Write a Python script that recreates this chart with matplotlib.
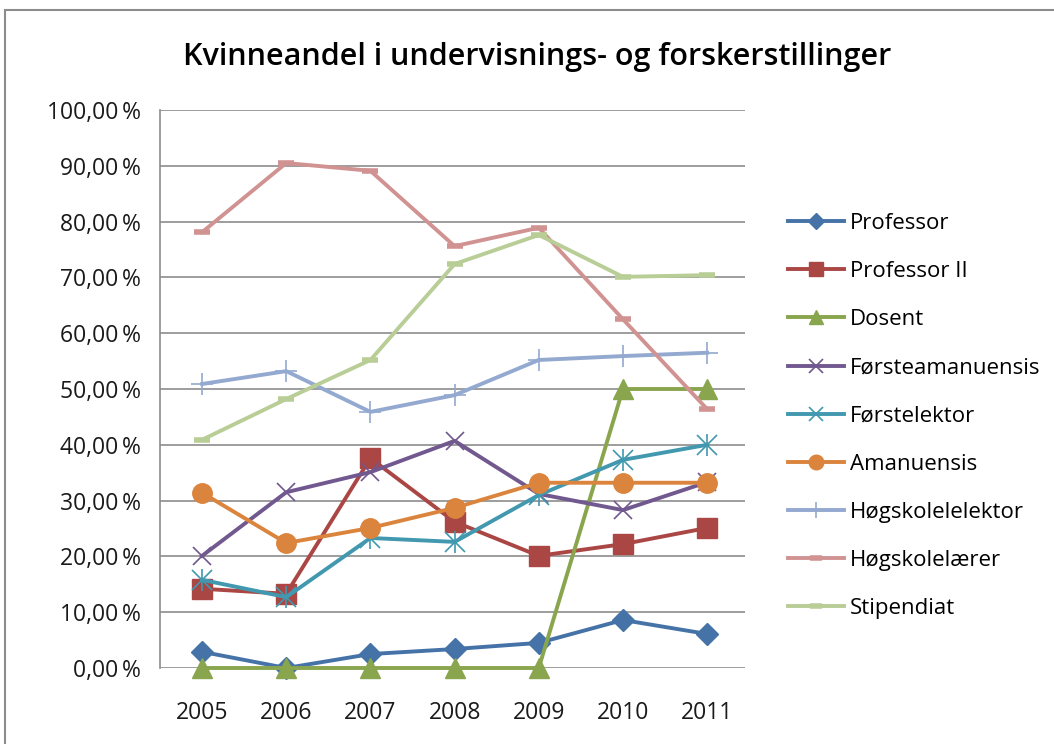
import matplotlib
matplotlib.use("Agg")
import matplotlib.pyplot as plt
from matplotlib.patches import Rectangle
from matplotlib.ticker import FuncFormatter

plt.rcParams['font.family'] = ['Open Sans', 'DejaVu Sans']

# -----------------------------
# Data (share of women, %)
# -----------------------------
years = [2005, 2006, 2007, 2008, 2009, 2010, 2011]

professor = [2.9, 0.0, 2.5, 3.4, 4.5, 8.6, 6.1]
professor_ii = [14.2, 13.3, 37.6, 26.2, 20.1, 22.2, 25.1]
dosent = [0.0, 0.0, 0.0, 0.0, 0.0, 50.0, 50.0]
forsteamanuensis = [20.1, 31.5, 35.1, 40.7, 31.2, 28.3, 33.3]
forstelektor = [15.8, 12.7, 23.3, 22.6, 31.0, 37.3, 40.0]
amanuensis = [31.4, 22.4, 25.1, 28.7, 33.2, 33.2, 33.2]
hogskolelektor = [50.9, 53.2, 45.9, 48.9, 55.2, 55.9, 56.5]
hogskolelaerer = [78.1, 90.5, 89.1, 75.6, 78.9, 62.5, 46.4]
stipendiat = [40.9, 48.2, 55.2, 72.4, 77.6, 70.1, 70.4]

series_names = ["Professor", "Professor II", "Dosent", "Førsteamanuensis",
                "Førstelektor", "Amanuensis", "Høgskolelelektor",
                "Høgskolelærer", "Stipendiat"]
series_values = [professor, professor_ii, dosent, forsteamanuensis,
                 forstelektor, amanuensis, hogskolelektor, hogskolelaerer,
                 stipendiat]

# -----------------------------
# Styles
# -----------------------------
colors = ["#4572A7", "#AA4643", "#89A54E", "#71588F", "#4198AF",
          "#DB843D", "#93A9CF", "#D19392", "#B9CD96"]
markers = ["D", "s", "^", "x", "*", "o", "+", "_", "_"]
msizes = [11, 14, 14, 13, 14, 14, 16, 11, 11]
mews = [1, 1, 1, 1.2, 1.2, 1, 1.2, 4, 4]

fig = plt.figure(figsize=(10.54, 7.44), dpi=100)
fig.patches.append(Rectangle((5 / 1054, -0.05), 1.1, 1 - 10 / 744 + 0.05,
                             transform=fig.transFigure, fill=False,
                             edgecolor="#8c8c8c", linewidth=1.5))

ax = fig.add_axes([160 / 1054, (744 - 668) / 744, 585 / 1054, 558 / 744])

for name, vals, c, m, ms, mew in zip(series_names, series_values, colors,
                                     markers, msizes, mews):
    if m == "*":
        # Excel star: x with a vertical bar
        ax.plot(years, vals, color=c, lw=2.8, marker="x", ms=ms, mew=mew,
                clip_on=False, label=name)
        ax.plot(years, vals, color=c, lw=0, marker="|", ms=ms + 2, mew=mew,
                clip_on=False)
    else:
        ax.plot(years, vals, color=c, lw=2.8, marker=m, ms=ms, mew=mew,
                mec=c, clip_on=False, label=name)

ax.set_ylim(0, 100)
ax.set_xlim(2004.5, 2011.45)
ax.set_yticks(range(0, 101, 10))
ax.yaxis.set_major_formatter(FuncFormatter(lambda v, p: f"{v:.2f}".replace(".", ",") + "\u2009%"))
ax.set_xticks(years)
ax.tick_params(axis="both", length=0, labelsize=16.5, colors="#1a1a1a")
ax.tick_params(axis="y", pad=14)
ax.tick_params(axis="x", pad=24)
ax.grid(axis="y", color="#8c8c8c", lw=1.2)
ax.set_axisbelow(True)
for s in ["top", "right", "bottom"]:
    ax.spines[s].set_visible(False)
ax.spines["left"].set_color("#8c8c8c")
ax.spines["left"].set_linewidth(1.2)

fig.text(537 / 1054, 1 - 57 / 744, "Kvinneandel i undervisnings- og forskerstillinger",
         ha="center", va="center", fontsize=22, fontweight="semibold")

handles, labels = ax.get_legend_handles_labels()
fig.legend(handles, labels, loc="center left",
           bbox_to_anchor=(768 / 1054, 1 - 416 / 744), frameon=False,
           fontsize=16, labelspacing=1.22, handlelength=2.5,
           handletextpad=0.3, markerscale=0.75)

fig.savefig("out.png", dpi=100)
